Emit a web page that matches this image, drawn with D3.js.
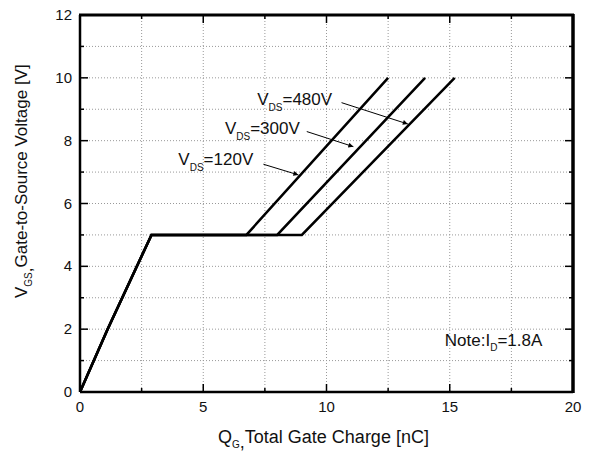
<!DOCTYPE html>
<html>
<head>
<meta charset="utf-8">
<script src="https://cdn.jsdelivr.net/npm/d3@7"></script>
<style>
  body { margin: 0; background: #fff; }
  svg { display: block; font-family: "Liberation Sans", Arial, sans-serif; }
</style>
</head>
<body>
<svg id="chart" width="597" height="453"></svg>
<script>
'use strict';

// shared turn-on ramp up to the Miller plateau
const riseQ = [0, 1.12, 2.9];
const riseV = [0, 2, 5];

// one curve per drain voltage
const vdsNames = ["120V", "300V", "480V"];
const plateauV = 5;
const plateauEndQ = [6.75, 8.0, 9.0];
const finalQ = [12.5, 14.0, 15.2];
const finalV = [10, 10, 10];

const xTicks = [0, 5, 10, 15, 20];
const yTicks = [0, 2, 4, 6, 8, 10, 12];

let svg = d3.select("#chart"),
	margin = { top: 15, right: 24, bottom: 61, left: 80 },
	width = +svg.attr("width") - margin.left - margin.right,
	height = +svg.attr("height") - margin.top - margin.bottom,
	g = svg.append("g").attr("transform", "translate(" + margin.left + "," + margin.top + ")");

let x = d3.scaleLinear().domain([0, 20]).range([0, width]);
let y = d3.scaleLinear().domain([0, 12]).range([height, 0]);

// dotted grid
g.append("g")
	.selectAll("line")
	.data(d3.range(2.5, 20, 2.5))
	.enter().append("line")
	.attr("x1", d => x(d)).attr("x2", d => x(d))
	.attr("y1", 0).attr("y2", height)
	.attr("stroke", "#999").attr("stroke-width", 1).attr("stroke-dasharray", "1,2");
g.append("g")
	.selectAll("line")
	.data(d3.range(1, 12, 1))
	.enter().append("line")
	.attr("x1", 0).attr("x2", width)
	.attr("y1", d => y(d)).attr("y2", d => y(d))
	.attr("stroke", "#999").attr("stroke-width", 1).attr("stroke-dasharray", "1,2");

// inward ticks on all four sides
function ticksX(vals, len, atY, dir) {
	g.append("g").selectAll("line").data(vals).enter().append("line")
		.attr("x1", d => x(d)).attr("x2", d => x(d))
		.attr("y1", atY).attr("y2", atY + dir * len)
		.attr("stroke", "#000").attr("stroke-width", 1.5);
}
function ticksY(vals, len, atX, dir) {
	g.append("g").selectAll("line").data(vals).enter().append("line")
		.attr("y1", d => y(d)).attr("y2", d => y(d))
		.attr("x1", atX).attr("x2", atX + dir * len)
		.attr("stroke", "#000").attr("stroke-width", 1.5);
}
let minorX = d3.range(2.5, 20, 5);
let minorY = d3.range(1, 12, 2);
ticksX(xTicks, 8, height, -1);
ticksX(minorX, 4, height, -1);
ticksX(xTicks, 8, 0, 1);
ticksX(minorX, 4, 0, 1);
ticksY(yTicks, 8, 0, 1);
ticksY(minorY, 4, 0, 1);
ticksY(yTicks, 8, width, -1);
ticksY(minorY, 4, width, -1);

// frame
g.append("line").attr("x1", 0).attr("x2", width).attr("y1", height).attr("y2", height)
	.attr("stroke", "#000").attr("stroke-width", 2.5);
g.append("line").attr("x1", 0).attr("x2", 0).attr("y1", 0).attr("y2", height)
	.attr("stroke", "#000").attr("stroke-width", 2.5);
g.append("line").attr("x1", -1).attr("x2", width + 1).attr("y1", 0).attr("y2", 0)
	.attr("stroke", "#000").attr("stroke-width", 3);
g.append("line").attr("x1", width).attr("x2", width).attr("y1", -1).attr("y2", height + 1)
	.attr("stroke", "#000").attr("stroke-width", 3.5);

// tick labels
g.append("g").selectAll("text").data(xTicks).enter().append("text")
	.attr("x", d => x(d)).attr("y", height + 20)
	.attr("text-anchor", "middle").attr("font-size", 15).attr("fill", "#111")
	.text(d => d);
g.append("g").selectAll("text").data(yTicks).enter().append("text")
	.attr("x", -8).attr("y", d => y(d) + 5)
	.attr("text-anchor", "end").attr("font-size", 15).attr("fill", "#111")
	.text(d => d);

// curves
let line = d3.line().x(d => x(d[0])).y(d => y(d[1]));
vdsNames.forEach(function (name, i) {
	let pts = riseQ.map((q, k) => [q, riseV[k]]);
	pts.push([plateauEndQ[i], plateauV]);
	pts.push([finalQ[i], finalV[i]]);
	g.append("path")
		.datum(pts)
		.attr("d", line)
		.attr("fill", "none")
		.attr("stroke", "#000")
		.attr("stroke-width", 2.5)
		.attr("stroke-linejoin", "miter");
});

// annotations: label anchor, arrow start, arrow tip (data units)
const labelAt = [[3.99, 7.23], [5.88, 8.22], [7.19, 9.14]];
const arrowFrom = [[7.44, 7.25], [9.2, 8.29], [10.61, 9.21]];
const arrowTo = [[8.86, 6.91], [11.09, 7.81], [13.3, 8.53]];

svg.append("defs").append("marker")
	.attr("id", "arr")
	.attr("viewBox", "0 0 10 10")
	.attr("refX", 10).attr("refY", 5)
	.attr("markerWidth", 11).attr("markerHeight", 5)
	.attr("markerUnits", "userSpaceOnUse")
	.attr("orient", "auto")
	.append("path").attr("d", "M0,0L10,5L0,10Z").attr("fill", "#000");

vdsNames.forEach(function (name, i) {
	let t = g.append("text")
		.attr("x", x(labelAt[i][0])).attr("y", y(labelAt[i][1]))
		.attr("font-size", 17).attr("fill", "#111");
	t.append("tspan").text("V");
	t.append("tspan").attr("font-size", 10).attr("dy", 6).text("DS");
	t.append("tspan").attr("dy", -6).text("=" + name);
	g.append("line")
		.attr("x1", x(arrowFrom[i][0])).attr("y1", y(arrowFrom[i][1]))
		.attr("x2", x(arrowTo[i][0])).attr("y2", y(arrowTo[i][1]))
		.attr("stroke", "#000").attr("stroke-width", 1)
		.attr("marker-end", "url(#arr)");
});

// note
let note = g.append("text")
	.attr("x", x(14.8)).attr("y", y(1.45))
	.attr("font-size", 17).attr("fill", "#111");
note.append("tspan").text("Note:I");
note.append("tspan").attr("font-size", 10).attr("dy", 5).text("D");
note.append("tspan").attr("dy", -5).text("=1.8A");

// axis titles (comma sits at the subscript's baseline like the original)
let xt = svg.append("text")
	.attr("x", 218).attr("y", 443)
	.attr("font-size", 18).attr("fill", "#111");
xt.append("tspan").text("Q");
xt.append("tspan").attr("font-size", 10).attr("dy", 5).text("G");
xt.append("tspan").text(",");
xt.append("tspan").attr("dy", -5).text("Total Gate Charge [nC]");

let yt = svg.append("text")
	.attr("transform", "translate(27,298) rotate(-90)")
	.attr("font-size", 17).attr("fill", "#111");
yt.append("tspan").text("V");
yt.append("tspan").attr("font-size", 10).attr("dy", 5).text("GS");
yt.append("tspan").text(",");
yt.append("tspan").attr("dy", -5).text("Gate-to-Source Voltage [V]");
</script>
</body>
</html>
